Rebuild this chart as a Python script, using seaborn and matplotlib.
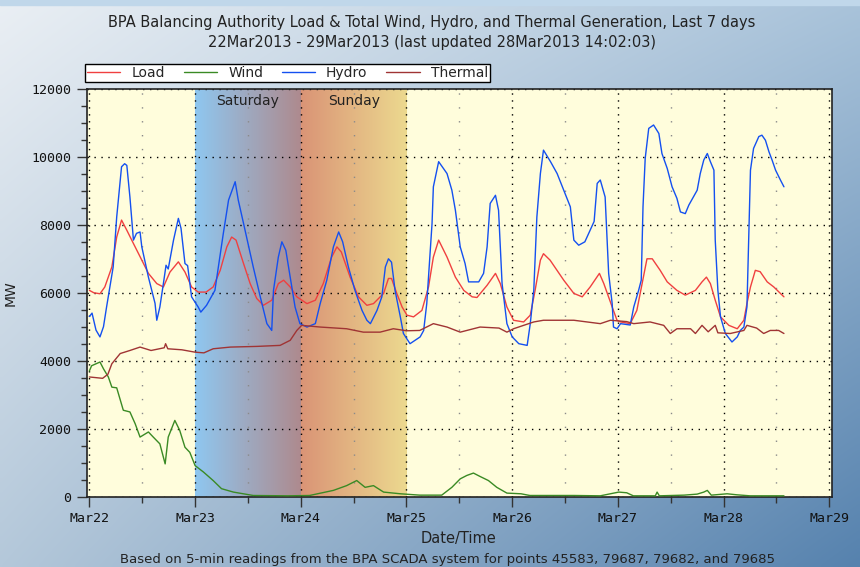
import numpy as np
import pandas as pd
import matplotlib
matplotlib.use("Agg")
import matplotlib.pyplot as plt
import seaborn as sns
from matplotlib.colors import to_rgb
from matplotlib.lines import Line2D
from matplotlib.ticker import MultipleLocator

# ---------------- data (hours since 22Mar2013 00:00, MW) ----------------
hydro_h = [0, 0.6, 1.5, 2.4, 3.2, 3.9, 5.4, 6.2, 7.3, 8.0, 8.5, 9.2, 10, 10.7, 11.5, 11.9, 13.4, 14.9,
           15.3, 16, 16.8, 17.4, 17.9, 19.1, 20.2, 20.8, 21.7, 22.3, 23.2, 24.7, 25.3, 26.6, 28.5, 30.4,
           31.6, 33.1, 33.8, 35, 37.2, 38.8, 40.3, 41.4, 41.8, 42.9, 43.7, 44.6, 45.6, 46.7, 47.8, 49.4,
           51.3, 52.4, 53.9, 55.4, 56.6, 57.5, 58.8, 60.3, 61.9, 63, 63.8, 65.3, 66.4, 67.2, 67.9, 68.6,
           69.4, 70.6, 71.3, 72.8, 75.1, 75.9, 76.6, 77.8, 78.1, 79.3, 81.2, 82.3, 83.1, 84.2, 85.3, 86.1,
           88.4, 89.5, 90.3, 91, 92.2, 92.9, 93.7, 94.8, 96, 97.5, 99.4, 100.1, 100.9, 101.6, 102.4, 103.1,
           104.7, 106.2, 107.7, 109.2, 110, 111.1, 112.5, 113.7, 114.6, 115.3, 116, 117.1, 117.9, 118.7,
           119, 119.8, 120.6, 122.8, 123.6, 124.7, 125.3, 125.7, 126.2, 127, 128.1, 129.3, 130, 131.2,
           132.3, 133.4, 134.2, 135.3, 136.1, 138, 138.7, 139.5, 140.3, 141, 141.8, 142.1, 142.7, 143.3,
           144.4, 145.9, 147.1, 147.8, 148.6, 149.3, 149.7, 150.1, 150.8, 152, 152.7, 153.5, 154.3, 155,
           155.8, 156.9, 157.7]
hydro_mw = [5300, 5400, 4900, 4700, 5000, 5580, 6760, 8230, 9710, 9800, 9750, 8820, 7550, 7750, 7790, 7350,
            6460, 5690, 5190, 5580, 6270, 6810, 6700, 7550, 8190, 7900, 6860, 6800, 5880, 5580, 5430, 5630,
            6070, 7740, 8730, 9270, 8730, 8040, 6760, 5880, 5090, 4890, 6070, 7050, 7500, 7250, 6460, 5580,
            5090, 4990, 5090, 5680, 6370, 7350, 7790, 7500, 6760, 6070, 5480, 5190, 5090, 5480, 5880, 6760,
            7000, 6900, 6070, 5290, 4800, 4500, 4700, 4890, 5680, 8040, 9120, 9860, 9510, 9020, 8430, 7350,
            6860, 6320, 6320, 6570, 7350, 8630, 8870, 8430, 6270, 5090, 4700, 4500, 4450, 5090, 6070, 8230,
            9510, 10200, 9860, 9510, 9020, 8530, 7550, 7400, 7500, 7840, 8100, 9220, 9320, 8820, 6570, 5680,
            4990, 4940, 5090, 5050, 5580, 6070, 6370, 8530, 9960, 10840, 10940, 10690, 10100, 9660, 9120,
            8780, 8380, 8330, 8580, 9020, 9510, 9910, 10100, 9860, 9610, 7550, 6070, 5290, 4800, 4550, 4700,
            4890, 4990, 5580, 7550, 9610, 10250, 10600, 10640, 10490, 10150, 9910, 9610, 9320, 9120]

load_h = [0, 1, 2.4, 3.5, 5.1, 6.2, 7.3, 8.5, 10, 11.9, 13.4, 15.3, 16.8, 18.3, 20.2, 21.7, 23.2, 24.7,
          26.5, 28.1, 29.7, 31.2, 32.3, 33.3, 35, 36.5, 38, 39.5, 41.4, 42.9, 44.1, 45.6, 47.1, 49.4, 51.3,
          53.1, 55, 56.2, 57.2, 59.2, 61.1, 63, 64.5, 66.8, 67.9, 68.6, 69.8, 71, 72.1, 73.6, 75.5, 77,
          78.1, 79.3, 81.2, 83.1, 85, 86.9, 88, 90.3, 92.2, 93.3, 94.8, 96.3, 98.6, 100.1, 101.2, 102.4,
          103.1, 104.6, 107.7, 110, 111.9, 113.7, 115.8, 116.8, 118.7, 119.8, 120.6, 122.8, 124.3, 125.5,
          126.6, 127.8, 129.6, 131.2, 133.4, 135.3, 137.6, 139.1, 140.1, 141, 142.1, 143.3, 145.2, 147.1,
          148.6, 149.3, 150.1, 151.2, 152.3, 153.9, 155.4, 156.9, 157.7]
load_mw = [6070, 6000, 5970, 6170, 6760, 7640, 8140, 7840, 7450, 6960, 6570, 6270, 6170, 6610, 6910, 6610,
           6170, 6020, 6020, 6170, 6660, 7350, 7640, 7550, 6860, 6270, 5830, 5630, 5780, 6270, 6370, 6170,
           5880, 5680, 5780, 6270, 7050, 7350, 7200, 6460, 5880, 5630, 5680, 5980, 6420, 6420, 5980, 5580,
           5340, 5290, 5480, 6170, 7050, 7550, 7050, 6460, 6070, 5880, 5860, 6220, 6570, 6270, 5580, 5190,
           5140, 5340, 6070, 6960, 7150, 6960, 6370, 5980, 5880, 6170, 6570, 6270, 5580, 5190, 5140, 5090,
           5480, 6270, 7000, 7000, 6660, 6320, 6070, 5930, 6070, 6320, 6460, 6270, 5780, 5290, 5040, 4940,
           5190, 5680, 6170, 6660, 6620, 6320, 6170, 5980, 5880]

thermal_h = [0, 3, 4.2, 5.1, 7, 9.2, 11.5, 14, 17, 17.3, 17.8, 21, 24, 26, 28.1, 32, 38, 43.3, 45.6, 47.1,
             48.2, 52.4, 58.4, 62.2, 66, 69, 72, 75, 78.1, 81.2, 84.2, 88.7, 93, 94.8, 96.3, 100.9, 103.1,
             110, 113, 116, 118.3, 122, 123.6, 127.3, 130.4, 131.9, 133.4, 136.5, 137.6, 139.1, 140.5,
             142.1, 142.7, 145.5, 148.6, 149.3, 151.5, 153.1, 154.6, 156.5, 157.7]
thermal_mw = [3520, 3480, 3600, 3910, 4210, 4300, 4400, 4300, 4380, 4500, 4350, 4320, 4250, 4230, 4350, 4400,
              4420, 4450, 4600, 4890, 5040, 4990, 4940, 4840, 4840, 4940, 4880, 4890, 5090, 4990, 4840, 4990,
              4960, 4840, 4940, 5140, 5190, 5190, 5140, 5090, 5190, 5150, 5090, 5140, 5040, 4800, 4940, 4940,
              4800, 5040, 4850, 5040, 4820, 4800, 4890, 5040, 4960, 4800, 4890, 4890, 4800]

wind_h = [0, 0.5, 2.4, 3.2, 4.3, 5.1, 6.2, 7.7, 9.2, 10.4, 11.5, 13.4, 14.5, 16, 17.2, 17.9, 19.4, 20.5,
          21.7, 22.8, 24, 25.9, 28.1, 30, 32.7, 37.2, 45, 50, 55.4, 58.4, 60.7, 62.6, 64.5, 66.8, 70.6, 75,
          80, 82.3, 84.2, 85.7, 87.2, 88.7, 90.6, 92.5, 94.8, 98, 100, 110, 116, 120.2, 122, 123.5, 128.5,
          128.9, 129.4, 135, 138, 139.5, 140.3, 141.2, 144.8, 147, 150, 157.7]
wind_mw = [3700, 3850, 3960, 3760, 3520, 3220, 3200, 2540, 2490, 2140, 1750, 1900, 1750, 1550, 960, 1750,
           2240, 1950, 1450, 1300, 910, 720, 470, 230, 130, 30, 20, 30, 180, 320, 470, 270, 320, 130, 80, 40,
           40, 270, 520, 620, 690, 590, 470, 270, 100, 80, 30, 30, 20, 130, 110, 20, 20, 130, 20, 40, 70,
           130, 180, 40, 80, 50, 20, 20]

series_names = ["Load", "Wind", "Hydro", "Thermal"]
series_colors = {"Load": "#f04040", "Wind": "#3a8a24", "Hydro": "#1450f0", "Thermal": "#a03434"}
x_tick_labels = ["Mar22", "Mar23", "Mar24", "Mar25", "Mar26", "Mar27", "Mar28", "Mar29"]
shade_labels = ["Saturday", "Sunday"]

title_l1 = "BPA Balancing Authority Load & Total Wind, Hydro, and Thermal Generation, Last 7 days"
title_l2 = "22Mar2013 - 29Mar2013 (last updated 28Mar2013 14:02:03)"
caption = "Based on 5-min readings from the BPA SCADA system for points 45583, 79687, 79682, and 79685"

# ---------------- build long table ----------------
frames = []
for name, hh, vv in [("Load", load_h, load_mw), ("Wind", wind_h, wind_mw),
                     ("Hydro", hydro_h, hydro_mw), ("Thermal", thermal_h, thermal_mw)]:
    frames.append(pd.DataFrame({"day": np.array(hh) / 24.0, "MW": vv, "series": name}))
df = pd.concat(frames, ignore_index=True)

# ---------------- figure ----------------
sns.set_theme(style="ticks")
plt.rcParams["font.family"] = ["DejaVu Sans"]

W, H = 860, 567
fig = plt.figure(figsize=(W / 100, H / 100), dpi=100)

# background gradient
bg = fig.add_axes([0, 0, 1, 1], zorder=-10)
tl, tr, bl, br = [np.array(to_rgb(c)) for c in ("#eaeff4", "#a9c3da", "#b4c8da", "#5682ae")]
u = np.linspace(0, 1, 200)[None, :, None]
v = np.linspace(0, 1, 140)[:, None, None]
img = (1 - v) * ((1 - u) * tl + u * tr) + v * ((1 - u) * bl + u * br)
bg.imshow(img, aspect="auto", extent=[0, 1, 0, 1], interpolation="bilinear")
bg.add_patch(plt.Rectangle((0, 1 - 5 / H), 1, 5 / H, color="#c0d7ea", transform=bg.transAxes))
bg.set_xlim(0, 1); bg.set_ylim(0, 1)
bg.axis("off")

left, right, top, bottom = 86.5, 832, 89, 496.5
ax = fig.add_axes([left / W, 1 - bottom / H, (right - left) / W, (bottom - top) / H])
ax.set_facecolor("#fffddc")

# weekend shading gradients
t = np.linspace(0, 1, 256)[None, :, None]
sat = (1 - t) * np.array(to_rgb("#8fc7f0")) + t * np.array(to_rgb("#ae8a8e"))
sun = (1 - t) * np.array(to_rgb("#da9476")) + t * np.array(to_rgb("#ecd98f"))
ax.imshow(sat, extent=[1, 2, 0, 12000], aspect="auto", zorder=0.1, interpolation="bilinear")
ax.imshow(sun, extent=[2, 3, 0, 12000], aspect="auto", zorder=0.1, interpolation="bilinear")
ax.text(1.5, 11640, shade_labels[0], ha="center", va="center", fontsize=10, color="#222222")
ax.text(2.5, 11640, shade_labels[1], ha="center", va="center", fontsize=10, color="#222222")

sns.lineplot(data=df, x="day", y="MW", hue="series", hue_order=series_names,
             palette=series_colors, estimator=None, sort=False, linewidth=1.0,
             legend=False, ax=ax, zorder=3)

ax.set_xlim(-0.0274, 7.0255)
ax.set_ylim(0, 12000)
ax.set_axisbelow(True)

ax.xaxis.set_major_locator(MultipleLocator(1))
ax.xaxis.set_minor_locator(MultipleLocator(0.5))
ax.yaxis.set_major_locator(MultipleLocator(2000))
ax.yaxis.set_minor_locator(MultipleLocator(500))
ax.set_xticks(range(8))
ax.set_xticklabels(x_tick_labels)

ax.grid(which="major", color="black", linestyle=(0, (1, 4)), linewidth=1.0)
ax.xaxis.grid(which="minor", color="#8a8a8a", linestyle=(0, (1, 9)), linewidth=1.0)

ax.tick_params(which="major", direction="out", length=7, width=1, color="#333333",
               labelsize=9.5, labelcolor="#111111", pad=4)
ax.tick_params(which="minor", direction="out", length=4, width=1, color="#333333")
for lab in ax.get_xticklabels() + ax.get_yticklabels():
    lab.set_fontfamily("DejaVu Sans Mono")

for s in ax.spines.values():
    s.set_visible(True)
    s.set_color("#222222")
    s.set_linewidth(1.2)

ax.set_ylabel("MW", fontsize=10, color="#222222")
ax.yaxis.set_label_coords((18 - left) / (right - left), 0.5)
ax.set_xlabel("Date/Time", fontsize=10.5, color="#222222")
ax.xaxis.set_label_coords((458 - left) / (right - left), (bottom - 538) / (bottom - top))
ax.xaxis.label.set_verticalalignment("center")

# legend above the plot
handles = [Line2D([0], [0], color=series_colors[n], lw=1.0) for n in series_names]
leg = fig.legend(handles, series_names, ncol=4, loc="lower left",
                 bbox_to_anchor=(85 / W, 1 - 82 / H, 405 / W, 19 / H), mode="expand",
                 frameon=True, fancybox=False, framealpha=1, edgecolor="black",
                 fontsize=10, handlelength=2.4, handletextpad=0.8, borderpad=0.15,
                 borderaxespad=0, columnspacing=1.0)
leg.get_frame().set_linewidth(1.0)

fig.text(432 / W, 1 - 22 / H, title_l1, ha="center", va="center", fontsize=10.5, color="#222222")
fig.text(432 / W, 1 - 43 / H, title_l2, ha="center", va="center", fontsize=10.5, color="#222222")
fig.text(447 / W, 1 - 565.5 / H, caption, ha="center", va="bottom", fontsize=9.5, color="#222222")

fig.savefig("out.png", dpi=100)
